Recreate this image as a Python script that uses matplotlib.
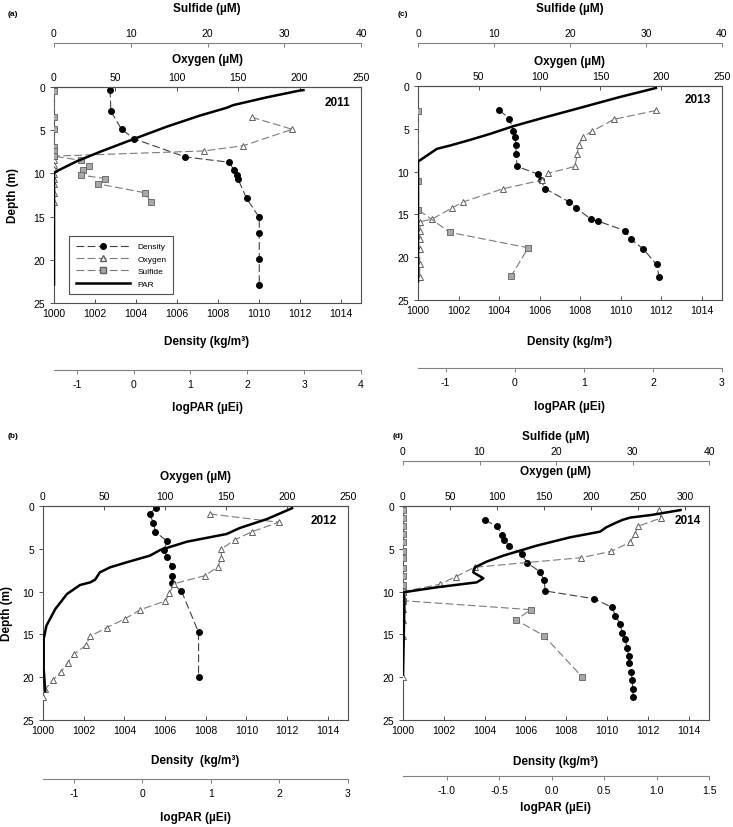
import matplotlib
matplotlib.use('Agg')
import matplotlib.pyplot as plt
from matplotlib.lines import Line2D
from matplotlib.ticker import FixedLocator, FormatStrFormatter

plt.rcParams['font.family'] = ['Liberation Sans', 'DejaVu Sans']

# ---------------- (a) 2011 ----------------
dens_dep_a = [0.3, 2.8, 4.9, 6.0, 8.1, 8.7, 9.6, 10.2, 10.7, 12.9, 15.1, 16.9, 19.9, 22.9]
dens_a = [1002.74, 1002.78, 1003.3, 1003.92, 1006.42, 1008.53, 1008.81, 1008.92, 1009.0,
          1009.41, 1010.03, 1010.03, 1010.03, 1010.03]
oxy_dep_a = [3.5, 4.9, 6.8, 7.4, 8.0, 8.5, 9.0, 9.5, 10.1, 10.6, 11.2, 12.3, 13.3]
oxy_a = [161, 194, 154, 122, 0, 0, 0, 0, 0, 0, 0, 0, 0]
sul_dep_a = [0.5, 3.5, 4.9, 6.9, 7.45, 8.0, 8.5, 9.1, 9.6, 10.2, 10.6, 11.2, 12.25, 13.3]
sul_a = [0, 0, 0, 0, 0, 0, 3.5, 4.6, 3.8, 3.5, 6.7, 5.7, 11.9, 12.6]
par_dep_a = [0.35, 0.4, 1.2, 2.1, 2.4, 3.3, 4.6, 6.0, 7.5, 8.6, 9.9, 23.0]
par_a = [3.01, 2.93, 2.34, 1.75, 1.64, 1.17, 0.58, 0.01, -0.59, -1.0, -1.4, -1.4]

# ---------------- (c) 2013 ----------------
dens_dep_c = [2.85, 3.8, 5.3, 5.9, 6.95, 8.0, 9.4, 10.3, 11.0, 12.0, 13.55, 14.25, 15.55,
              15.8, 16.9, 17.9, 19.0, 20.85, 22.3]
dens_c = [1004.02, 1004.51, 1004.71, 1004.79, 1004.84, 1004.84, 1004.89, 1005.94, 1006.06,
          1006.27, 1007.47, 1007.8, 1008.53, 1008.9, 1010.21, 1010.5, 1011.1, 1011.77, 1011.9]
oxy_dep_c = [2.85, 3.9, 5.3, 5.9, 6.9, 8.0, 9.4, 10.2, 11.0, 12.0, 13.55, 14.25, 15.55,
             15.85, 16.9, 17.9, 19.0, 20.85, 22.3]
oxy_c = [196, 161, 143, 136, 132, 131, 129, 107, 102, 70, 37, 28, 11.5, 2, 1.4, 1.4, 1.4, 1.4, 1.4]
sul_dep_c = [2.9, 11.1, 14.45, 17.1, 18.9, 22.15]
sul_c = [0, 0, 0, 4.2, 14.5, 12.3]
par_dep_c = [0.2, 1.29, 2.66, 3.71, 4.69, 5.59, 6.29, 6.95, 7.34, 8.83, 22.97]
par_c = [2.06, 1.52, 0.897, 0.415, -0.018, -0.355, -0.644, -0.933, -1.126, -1.4, -1.4]

# ---------------- (b) 2012 ----------------
dens_dep_b = [0.23, 0.93, 1.95, 3.04, 4.13, 5.14, 5.96, 7.05, 8.18, 9.03, 9.93, 14.76, 19.98]
dens_b = [1005.55, 1005.24, 1005.43, 1005.53, 1006.12, 1005.93, 1006.12, 1006.34, 1006.34,
          1006.35, 1006.81, 1007.65, 1007.65]
oxy_dep_b = [0.93, 1.9, 3.0, 3.97, 5.02, 6.04, 7.09, 8.14, 9.07, 10.16, 11.1, 12.11, 13.16,
             14.21, 15.23, 16.28, 17.33, 18.34, 19.35, 20.37, 21.38, 22.31]
oxy_b = [136.6, 193.2, 171.3, 157.1, 146.2, 146.2, 143.4, 132.8, 107.7, 103.6, 100.3, 79.8,
         67.5, 52.2, 38.5, 35.2, 25.1, 20.2, 14.8, 7.9, 1.9, 0]
par_dep_b = [0.2, 1.52, 2.57, 3.27, 4.17, 5.14, 5.8, 6.58, 7.16, 7.75, 8.61, 8.92, 9.23,
             10.28, 12.03, 13.98, 15.54, 19.04, 21.77]
par_b = [2.2, 1.82, 1.42, 1.23, 0.65, 0.26, 0.11, -0.23, -0.47, -0.62, -0.69, -0.76, -0.91,
         -1.10, -1.27, -1.40, -1.44, -1.44, -1.416]

# ---------------- (d) 2014 ----------------
dens_dep_d = [1.66, 2.37, 3.39, 4.01, 4.63, 5.61, 6.62, 7.71, 8.68, 9.93, 10.83, 11.84, 12.81,
              13.82, 14.84, 15.54, 16.55, 17.48, 18.38, 19.43, 20.29, 21.34, 22.35]
dens_d = [1004.02, 1004.61, 1004.85, 1004.97, 1005.2, 1005.82, 1006.08, 1006.73, 1006.91,
          1006.98, 1009.35, 1010.25, 1010.41, 1010.65, 1010.74, 1010.88, 1010.98, 1011.06,
          1011.1, 1011.19, 1011.23, 1011.27, 1011.27]
oxy_dep_d = [0.5, 1.4, 2.35, 3.27, 4.25, 5.3, 6.04, 7.16, 8.26, 9.15, 10.0, 12.03, 13.3, 15.15, 20.0]
oxy_d = [272, 274, 250, 246, 241, 221, 189, 76, 56, 39, 0, 0, 0, 0, 0]
sul_dep_d = [0.47, 1.4, 2.37, 3.31, 4.25, 5.26, 6.11, 7.28, 8.22, 9.19, 10.09, 11.06, 12.11,
             13.32, 15.15, 19.94]
sul_d = [0, 0, 0, 0, 0, 0, 0, 0, 0, 0, 0, 0, 16.7, 14.8, 18.4, 23.4]
par_dep_d = [0.45, 1.05, 1.35, 1.6, 1.91, 2.49, 3.0, 3.66, 4.63, 5.8, 6.5, 7.16, 7.75, 8.45,
             8.92, 9.5, 10.09, 10.67, 11.64, 19.82]
par_d = [1.24, 0.95, 0.75, 0.68, 0.62, 0.52, 0.46, 0.174, -0.144, -0.463, -0.622, -0.733,
         -0.749, -0.653, -0.717, -1.1, -1.42, -1.407, -1.407, -1.42]

W, H = 733, 828
fig = plt.figure(figsize=(W / 100, H / 100), dpi=100)

SPINE = '#505050'
DASH = (7, 3)
GREY_LINE = '#7a7a7a'


def px_rect(l, t, r, b):
    return [l / W, 1 - b / H, (r - l) / W, (b - t) / H]


def ftext(x, y, s, **kw):
    fig.text(x / W, 1 - y / H, s, ha='center', va='center', **kw)


def panel(box, dens, dens_dep, oxy, oxy_dep, o2_max, sul, sul_dep, par, par_dep,
          par_lim, par_ticks, par_fmt, sul_off, par_off, year, year_xy):
    ax = fig.add_axes(px_rect(*box))
    ax.set_xlim(1000, 1015)
    ax.set_ylim(25, 0)
    ax.set_xticks(range(1000, 1016, 2))
    ax.set_yticks(range(0, 26, 5))
    ax.tick_params(axis='x', direction='in', length=3, labelsize=7.5, width=0.7, color=SPINE)
    ax.tick_params(axis='y', direction='out', length=3, labelsize=7.5, width=0.7, color=SPINE)
    for s in ax.spines.values():
        s.set_color(SPINE)
        s.set_linewidth(0.8)
    ax.plot(dens, dens_dep, color='#404040', lw=0.8, dashes=DASH,
            marker='o', ms=4, mfc='black', mec='black', zorder=3)

    # oxygen axis (top)
    ax_o = ax.twiny()
    ax_o.set_xlim(0, o2_max)
    ax_o.xaxis.set_major_locator(FixedLocator(range(0, int(o2_max) + 1, 50)))
    ax_o.tick_params(axis='x', direction='in', length=3, labelsize=7.5, width=0.7, color=SPINE)
    for k in ['left', 'right', 'bottom']:
        ax_o.spines[k].set_visible(False)
    ax_o.spines['top'].set_color(SPINE)
    ax_o.plot(oxy, oxy_dep, color=GREY_LINE, lw=0.8, dashes=DASH,
              marker='^', ms=4.5, mfc='white', mec='#606060', mew=0.7)

    # sulfide axis (top, offset)
    if sul is not None:
        ax_s = ax.twiny()
        ax_s.set_xlim(0, 40)
        ax_s.set_xticks([0, 10, 20, 30, 40])
        ax_s.spines['top'].set_position(('outward', sul_off * 0.72))
        for k in ['left', 'right', 'bottom']:
            ax_s.spines[k].set_visible(False)
        ax_s.spines['top'].set_color('#808080')
        ax_s.tick_params(axis='x', direction='in', length=3, labelsize=7.5, width=0.7,
                         color='#808080')
        ax_s.plot(sul, sul_dep, color=GREY_LINE, lw=0.8, dashes=DASH,
                  marker='s', ms=4, mfc='#a8a8a8', mec='#606060', mew=0.6)

    # logPAR axis (bottom, offset)
    ax_p = ax.twiny()
    ax_p.set_xlim(*par_lim)
    ax_p.xaxis.set_ticks_position('bottom')
    ax_p.xaxis.set_label_position('bottom')
    ax_p.spines['bottom'].set_position(('outward', par_off * 0.72))
    for k in ['left', 'right', 'top']:
        ax_p.spines[k].set_visible(False)
    ax_p.spines['bottom'].set_color('#808080')
    ax_p.set_xticks(par_ticks)
    ax_p.xaxis.set_major_formatter(FormatStrFormatter(par_fmt))
    ax_p.tick_params(axis='x', direction='out', length=3, labelsize=7.5, width=0.7,
                     color='#808080')
    ax_p.plot(par, par_dep, color='black', lw=1.8, solid_capstyle='butt')

    ax.text(year_xy[0], year_xy[1], year, transform=ax.transAxes, fontsize=8.5,
            fontweight='bold', ha='center', va='center')
    return ax, ax_p


# (a)
box_a = (54, 88, 361, 304)
ax_a, axp_a = panel(box_a, dens_a, dens_dep_a, oxy_a, oxy_dep_a, 250, sul_a, sul_dep_a,
                    par_a, par_dep_a, (-1.4, 4), [-1, 0, 1, 2, 3, 4], '%g', 44, 67,
                    '2011', (0.925, 0.93))
# (c)
box_c = (418, 87, 722, 301)
panel(box_c, dens_c, dens_dep_c, oxy_c, oxy_dep_c, 250, sul_c, sul_dep_c,
      par_c, par_dep_c, (-1.4, 3), [-1, 0, 1, 2, 3], '%g', 43, 68,
      '2013', (0.92, 0.94))
# (b)
box_b = (43, 507, 348, 721)
panel(box_b, dens_b, dens_dep_b, oxy_b, oxy_dep_b, 250, None, None,
      par_b, par_dep_b, (-1.45, 3), [-1, 0, 1, 2, 3], '%g', 0, 59,
      '2012', (0.92, 0.935))
# (d)
box_d = (403, 507, 709, 721)
panel(box_d, dens_d, dens_dep_d, oxy_d, oxy_dep_d, 325, sul_d, sul_dep_d,
      par_d, par_dep_d, (-1.42, 1.5), [-1.0, -0.5, 0.0, 0.5, 1.0, 1.5], '%.1f', 45, 56,
      '2014', (0.93, 0.935))

# legend in (a)
handles = [
    Line2D([], [], color='#404040', lw=0.8, dashes=DASH, marker='o', ms=4, mfc='black', mec='black'),
    Line2D([], [], color=GREY_LINE, lw=0.8, dashes=DASH, marker='^', ms=4.5, mfc='white', mec='#606060'),
    Line2D([], [], color=GREY_LINE, lw=0.8, dashes=DASH, marker='s', ms=4, mfc='#a8a8a8', mec='#606060'),
    Line2D([], [], color='black', lw=1.8),
]
leg = axp_a.legend(handles, ['Density', 'Oxygen', 'Sulfide', 'PAR'], loc='lower left',
                   bbox_to_anchor=(0.05, 0.04), fontsize=6, handlelength=6.5,
                   labelspacing=0.55, borderpad=0.8, handletextpad=0.9, borderaxespad=0,
                   fancybox=False, framealpha=1, edgecolor='#505050')
leg.get_frame().set_linewidth(0.8)

# axis titles
tb = dict(fontsize=8.5, fontweight='bold')
ftext(207, 9, 'Sulfide (µM)', **tb)
ftext(207, 60, 'Oxygen (µM)', **tb)
ftext(207, 342, 'Density (kg/m³)', **tb)
ftext(207, 408, 'logPAR (µEi)', **tb)
ftext(570, 9, 'Sulfide (µM)', **tb)
ftext(570, 62, 'Oxygen (µM)', **tb)
ftext(570, 342, 'Density (kg/m³)', **tb)
ftext(570, 407, 'logPAR (µEi)', **tb)
ftext(195, 477, 'Oxygen (µM)', **tb)
ftext(195, 761, 'Density  (kg/m³)', **tb)
ftext(195, 818, 'logPAR (µEi)', **tb)
ftext(556, 437, 'Sulfide (µM)', **tb)
ftext(556, 472, 'Oxygen (µM)', **tb)
ftext(556, 762, 'Density (kg/m³)', **tb)
ftext(556, 808, 'logPAR (µEi)', **tb)
ftext(13, 196, 'Depth (m)', rotation=90, **tb)
ftext(7, 614, 'Depth (m)', rotation=90, **tb)

# panel letters
tl = dict(fontsize=6, fontweight='bold')
ftext(13, 15, '(a)', **tl)
ftext(403, 14, '(c)', **tl)
ftext(13, 437, '(b)', **tl)
ftext(398, 437, '(d)', **tl)

fig.savefig('out.png', dpi=100)
